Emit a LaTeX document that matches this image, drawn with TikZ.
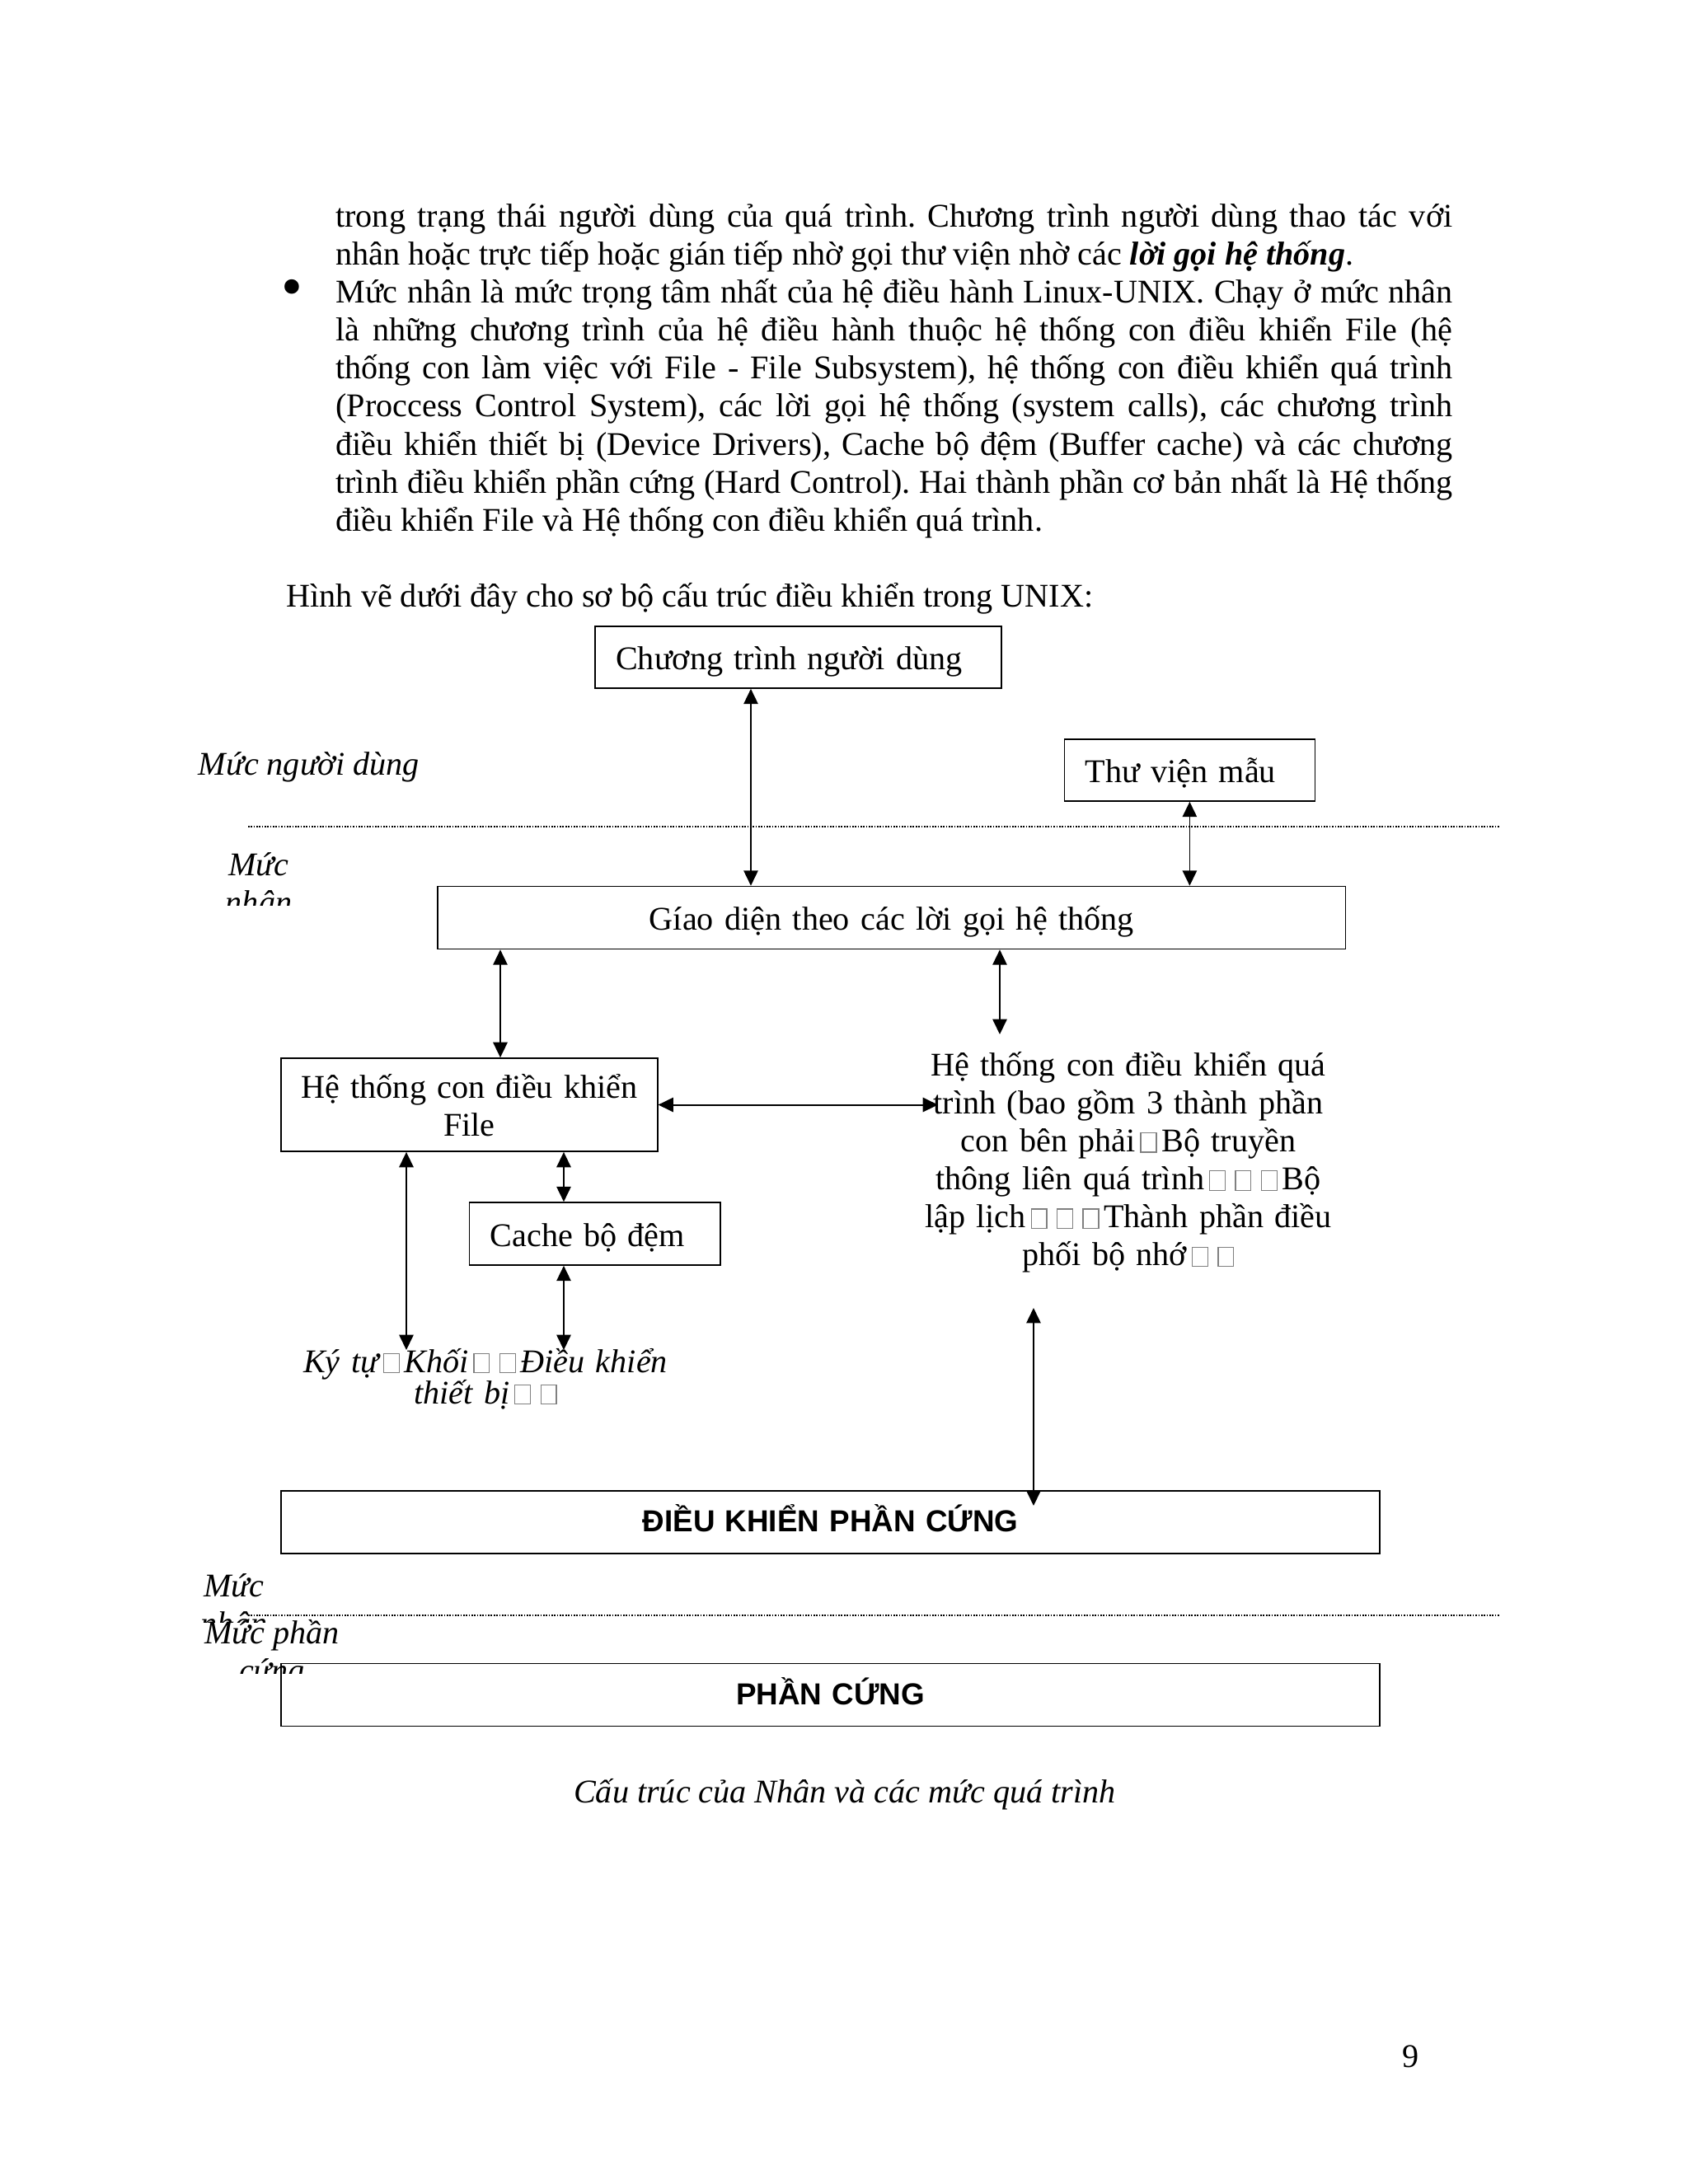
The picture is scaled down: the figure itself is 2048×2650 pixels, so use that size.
\documentclass[tikz,border=0pt]{standalone}
\usepackage{fontspec}
\setmainfont{Liberation Serif}
\newfontfamily\arialfont{Liberation Sans}
\usetikzlibrary{arrows.meta}
\frenchspacing

\newcommand\pxu{0.29883pt}
% missing glyph, printed as an empty frame
\newcommand\nog{\hspace{1.7pt}\textcolor{gray}{\fboxsep=0pt\fboxrule=0.35pt\fbox{\rule{0pt}{6.6pt}\hspace{5.3pt}}}\hspace{1.7pt}}

\begin{document}
\begin{tikzpicture}[x=\pxu, y=-\pxu, font=\fontsize{12}{13.8}\selectfont,
	>={Triangle[length=5.5pt,width=5.2pt]},
	itx/.style={anchor=base, inner sep=0pt, font=\fontsize{12}{13.8}\selectfont\itshape},
	tbox/.style={draw, line width=0.5pt, inner ysep=0pt, text height=9pt, text depth=0pt},
	lbox/.style={tbox, inner xsep=7.5pt, align=left},
	cbox/.style={tbox, inner xsep=4pt, align=center},
	hbox/.style={cbox, text height=7.2pt, font=\arialfont\bfseries\fontsize{11}{13}\selectfont}]
	\fill [white] (0,0) rectangle (2048,2650);
	\useasboundingbox (0,0) rectangle (2048,2650);

	% text of the page
	\node [anchor=base west, inner sep=0pt, text width=404.9pt, align=justify] (body1) at (406.7,275)
		{trong trạng thái người dùng của quá trình. Chương trình người dùng thao tác với\linebreak
		nhân hoặc trực tiếp hoặc gián tiếp nhờ gọi thư viện nhờ các \textbf{\textit{lời gọi hệ thống}}.};
	\node [inner sep=0pt, font=\fontsize{22}{22}\selectfont] (bullet) at (354,356) {•};
	\node [anchor=base west, inner sep=0pt, text width=404.9pt, align=justify] (body2) at (406.7,367.3)
		{Mức nhân là mức trọng tâm nhất của hệ điều hành Linux-UNIX. Chạy ở mức nhân\linebreak
		là những chương trình của hệ điều hành thuộc hệ thống con điều khiển File (hệ\linebreak
		thống con làm việc với File - File Subsystem), hệ thống con điều khiển quá trình\linebreak
		(Proccess Control System), các lời gọi hệ thống (system calls), các chương trình\linebreak
		điều khiển thiết bị (Device Drivers), Cache bộ đệm (Buffer cache) và các chương\linebreak
		trình điều khiển phần cứng (Hard Control). Hai thành phần cơ bản nhất là Hệ thống\linebreak
		điều khiển File và Hệ thống con điều khiển quá trình.};
	\node [anchor=base west, inner sep=0pt] (intro) at (347,736)
		{Hình vẽ dưới đây cho sơ bộ cấu trúc điều khiển trong UNIX:};

	% levels
	\draw [line width=0.5pt, dash pattern=on 0.5pt off 0.5pt] (301,1002.7) -- (1820,1002.7);
	\draw [line width=0.5pt, dash pattern=on 0.5pt off 0.5pt] (301,1960) -- (1820,1960);
	\node [itx, anchor=base west] (lvluser) at (240,940) {Mức người dùng};
	\node [itx] (lvlker) at (314,1062) {Mức};
	\begin{scope}
		\clip (200,1070) rectangle (430,1098);
		\node [itx] (lvlkerb) at (314,1108) {nhân};
	\end{scope}
	\node [itx] (lvlker2) at (284,1937) {Mức};
	\begin{scope}
		\clip (200,1945) rectangle (430,1968);
		\node [itx] (lvlker2b) at (284,1983) {nhân};
	\end{scope}
	\node [itx] (lvlhw) at (330,1994) {Mức phần};
	\begin{scope}
		\clip (200,2005) rectangle (430,2030);
		\node [itx] (lvlhwb) at (330,2040) {cứng};
	\end{scope}

	% boxes
	\node [lbox, text width=132.3pt, minimum height=22.4pt] (user) at (968.5,797.5) {Chương trình người dùng};
	\node [lbox, text width=75.8pt, minimum height=22.4pt] (lib) at (1443.4,934.5) {Thư viện mẫu};
	\node [cbox, text width=321.2pt, minimum height=22.7pt] (sysif) at (1081.8,1113.5) {Gíao diện theo các lời gọi hệ thống};
	\node [cbox, text width=128.4pt, minimum height=33.8pt, text depth=13.8pt] (filesys) at (569.5,1340.5)
		{Hệ thống con điều khiển\\ File};
	\node [lbox, text width=76pt, minimum height=22.7pt] (cache) at (721.8,1497) {Cache bộ đệm};
	\node [hbox, text width=390.2pt, minimum height=22.7pt] (hwctl) at (1007.6,1846.9) {ĐIỀU KHIỂN PHẦN CỨNG};
	\node [hbox, text width=390.2pt, minimum height=22.7pt] (hw) at (1007.6,2056.5) {PHẦN CỨNG};

	\node [anchor=base, inner sep=0pt, text width=148pt, align=center] (proc) at (1369,1305)
		{Hệ thống con điều khiển quá\\ trình (bao gồm 3 thành phần\\ con bên phải\nog Bộ truyền\\
		thông liên quá trình\nog\nog\nog Bộ\\ lập lịch\nog\nog\nog Thành phần điều\\ phối bộ nhớ\nog\nog};
	\node [itx, text width=136pt, align=center, font=\fontsize{12}{11.4}\selectfont\itshape] (dev) at (589,1665)
		{Ký tự\nog Khối\nog\nog Điều khiển\\ thiết bị\nog\nog};

	\node [itx] (caption) at (1025,2187) {Cấu trúc của Nhân và các mức quá trình};
	\node [anchor=base, inner sep=0pt] (pagenum) at (1712,2508) {9};

	% connectors
	\coordinate (ucol) at (911,0);
	\coordinate (fcol) at (607,0);
	\coordinate (procup) at (1213,1255);
	\coordinate (procin) at (1138,1340.5);
	\coordinate (devl) at (493,1638);
	\coordinate (devr) at (684,1638);
	\coordinate (hwup) at (1254,1587);
	\coordinate (hwdn) at (1254,1827);

	\draw [<->, line width=0.5pt] (user.south -| ucol) -- (sysif.north -| ucol);
	\draw [<->, line width=0.5pt] (lib.south) -- (lib.south |- sysif.north);
	\draw [<->, line width=0.5pt] (sysif.south -| fcol) -- (filesys.north -| fcol);
	\draw [<->, line width=0.5pt] (sysif.south -| procup) -- (procup);
	\draw [<->, line width=0.6pt] (filesys.east) -- (procin);
	\draw [<->, line width=0.5pt] (filesys.south -| devr) -- (cache.north -| devr);
	\draw [<->, line width=0.5pt] (filesys.south -| devl) -- (devl);
	\draw [<->, line width=0.5pt] (cache.south -| devr) -- (devr);
	\draw [<->, line width=0.5pt] (hwup) -- (hwdn);
\end{tikzpicture}
\end{document}
